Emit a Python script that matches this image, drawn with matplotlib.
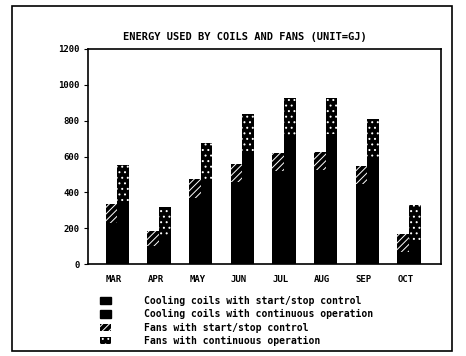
import matplotlib
matplotlib.use('Agg')
import matplotlib.pyplot as plt
import numpy as np
from matplotlib.patches import Patch, Rectangle

months = ['MAR', 'APR', 'MAY', 'JUN', 'JUL', 'AUG', 'SEP', 'OCT']
coils_startstop = [230, 100, 370, 460, 520, 525, 445, 65]
coils_continuous = [340, 155, 465, 630, 720, 725, 600, 135]
fans_startstop = [105, 85, 105, 100, 100, 100, 100, 100]
fans_continuous = [210, 165, 210, 210, 205, 200, 210, 195]
yticks = [0, 200, 400, 600, 800, 1000, 1200]
labels = ['Cooling coils with start/stop control',
          'Cooling coils with continuous operation',
          'Fans with start/stop control',
          'Fans with continuous operation']

plt.rcParams['font.family'] = 'DejaVu Sans Mono'
plt.rcParams['font.weight'] = 'bold'
plt.rcParams['hatch.linewidth'] = 0.7

HATCH_SS = '/////'
HATCH_CONT = '...'

W, H = 466, 356
fig = plt.figure(figsize=(W / 100, H / 100), dpi=100)
ax = fig.add_axes([88 / W, 1 - 264 / H, (441 - 88) / W, (264 - 49) / H])

x = np.arange(len(months))
w = 0.28

# black base bars
ax.bar(x - w / 2, coils_startstop, w, color='black', linewidth=0)
ax.bar(x + w / 2, coils_continuous, w, color='black', linewidth=0)
# fan parts: black with white pattern on top
ax.bar(x - w / 2, fans_startstop, w, bottom=coils_startstop, color='black', linewidth=0)
ax.bar(x - w / 2, fans_startstop, w, bottom=coils_startstop, facecolor='none',
       edgecolor='white', hatch=HATCH_SS, linewidth=0)
ax.bar(x + w / 2, fans_continuous, w, bottom=coils_continuous, color='black', linewidth=0)
ax.bar(x + w / 2, fans_continuous, w, bottom=coils_continuous, facecolor='none',
       edgecolor='white', hatch=HATCH_CONT, linewidth=0)

ax.set_xlim(-0.7, 7.77)
ax.set_ylim(0, 1200)
ax.set_yticks(yticks)
ax.set_yticklabels([str(v) for v in yticks], fontsize=6.5, fontweight='bold')
ax.set_xticks(x - 0.08)
ax.set_xticklabels(months, fontsize=6.5, fontweight='bold')
ax.tick_params(axis='x', length=0, pad=8)
ax.tick_params(axis='y', length=3, width=0.8, pad=3)
for s in ax.spines.values():
    s.set_linewidth(1.2)

fig.text(245 / W, 1 - 37 / H, 'ENERGY USED BY COILS AND FANS (UNIT=GJ)',
         ha='center', va='center', fontsize=7.5, fontweight='bold')

# legend
handles = [Patch(facecolor='black', edgecolor='black'),
           Patch(facecolor='black', edgecolor='black'),
           Patch(facecolor='black', edgecolor='white', hatch=HATCH_SS, linewidth=0),
           Patch(facecolor='black', edgecolor='white', hatch=HATCH_CONT, linewidth=0)]
fig.legend(handles, labels, loc='upper left', bbox_to_anchor=(92 / W, 1 - 288 / H),
           frameon=False, fontsize=7.0, handlelength=1.2, handleheight=0.8,
           handletextpad=3.3, labelspacing=0.35, borderpad=0.3)

# outer frame of the page
fig.add_artist(Rectangle((12 / W, 1 - 351 / H), (452 - 12) / W, (351 - 6) / H,
                         transform=fig.transFigure, fill=False, edgecolor='black',
                         linewidth=1.2))

fig.savefig('out.png', dpi=100)
